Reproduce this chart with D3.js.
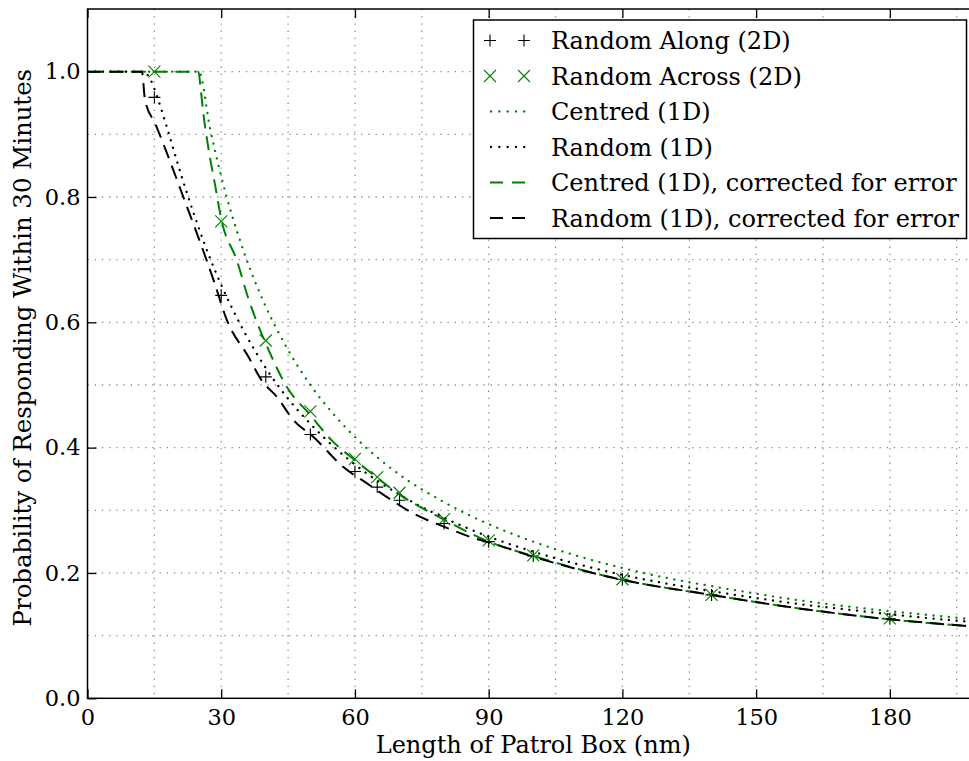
<!DOCTYPE html>
<html>
<head>
<meta charset="utf-8">
<script src="https://cdn.jsdelivr.net/npm/d3@7/dist/d3.min.js"></script>
<style>
  html, body { margin: 0; padding: 0; background: #fff; }
  svg { display: block; font-family: "DejaVu Serif", serif; }
</style>
</head>
<body>
<svg id="chart" width="969" height="761"></svg>
<script>
// ---------- data ----------
const markerX = [15, 30, 40, 50, 60, 65, 70, 80, 90, 100, 120, 140, 180];
const randomAlong2D = [0.959, 0.643, 0.513, 0.421, 0.362, 0.337, 0.316, 0.279, 0.250, 0.227, 0.190, 0.165, 0.127];
const randomAcross2D = [1.0, 0.761, 0.571, 0.458, 0.382, 0.353, 0.328, 0.286, 0.252, 0.228, 0.190, 0.165, 0.1275];

const centred1DX = [0, 25, 27.5, 30, 35, 40, 45, 50, 55, 60, 70, 80, 90, 100, 110, 120, 130, 140, 150, 160, 170, 180, 190, 200];
const centred1DY = [1, 1, 0.909, 0.833, 0.714, 0.625, 0.556, 0.5, 0.455, 0.417, 0.357, 0.313, 0.278, 0.25, 0.227, 0.208, 0.192, 0.179, 0.167, 0.156, 0.147, 0.139, 0.132, 0.125];

const random1DX = [0, 12.5, 14, 16, 18, 20, 22.5, 25, 27.5, 30, 35, 40, 45, 50, 55, 60, 70, 80, 90, 100, 110, 120, 130, 140, 150, 160, 170, 180, 190, 200];
const random1DY = [1, 1, 0.989, 0.952, 0.907, 0.859, 0.802, 0.75, 0.702, 0.66, 0.587, 0.527, 0.478, 0.438, 0.403, 0.373, 0.325, 0.288, 0.258, 0.234, 0.214, 0.197, 0.183, 0.171, 0.16, 0.15, 0.142, 0.134, 0.127, 0.121];

const centredCorrX = [0, 24.9, 25.4, 26, 27.1, 28.7, 30, 33.5, 36, 41, 44.7, 50, 55, 60, 65, 70, 76, 80, 86, 90, 100, 120, 140, 160, 180, 200];
const centredCorrY = [1, 1, 0.972, 0.933, 0.879, 0.816, 0.765, 0.699, 0.64, 0.55, 0.497, 0.452, 0.41, 0.38, 0.352, 0.325, 0.3, 0.285, 0.263, 0.25, 0.227, 0.189, 0.165, 0.143, 0.126, 0.114];

const randomCorrX = [0, 12.2, 12.9, 15.2, 21.5, 28.3, 31.3, 36.1, 39.1, 42.5, 46.2, 50.7, 57.4, 62.7, 67.2, 73.1, 79.9, 87, 90, 100, 120, 140, 160, 180, 200];
const randomCorrY = [1, 1, 0.955, 0.917, 0.8, 0.667, 0.603, 0.545, 0.507, 0.481, 0.444, 0.417, 0.369, 0.343, 0.321, 0.295, 0.274, 0.255, 0.249, 0.226, 0.189, 0.165, 0.143, 0.126, 0.114];

const xTicks = [0, 30, 60, 90, 120, 150, 180];
const yTicks = [0.0, 0.2, 0.4, 0.6, 0.8, 1.0];
const xGrid = [15, 30, 45, 60, 75, 90, 105, 120, 135, 150, 165, 180, 195];
const yGrid = [0.1, 0.2, 0.3, 0.4, 0.5, 0.6, 0.7, 0.8, 0.9, 1.0];

const legendLabels = ["Random Along (2D)", "Random Across (2D)", "Centred (1D)", "Random (1D)",
  "Centred (1D), corrected for error", "Random (1D), corrected for error"];

const xLabel = "Length of Patrol Box (nm)";
const yLabel = "Probability of Responding Within 30 Minutes";

// ---------- layout ----------
const GREEN = "#008000";
const FS = "24px";
const TFS = "22.5px";
const svg = d3.select("#chart");
const pL = 87.5, pT = 9, pR = 979, pB = 698.3;
const x = d3.scaleLinear().domain([0, 200]).range([pL, pR]);
const y = d3.scaleLinear().domain([0, 1.1]).range([pB, pT]);

const DOT = "0.1,7.6";
const DASH = "14,8";

// grid
const grid = svg.append("g");
grid.selectAll("line.gx").data(xGrid).join("line")
  .attr("x1", d => x(d)).attr("x2", d => x(d)).attr("y1", pT).attr("y2", pB)
  .attr("stroke", "#8c8c8c").attr("stroke-width", 1.3).attr("stroke-dasharray", "1.3,5.9");
grid.selectAll("line.gy").data(yGrid).join("line")
  .attr("x1", pL).attr("x2", pR).attr("y1", d => y(d)).attr("y2", d => y(d))
  .attr("stroke", "#8c8c8c").attr("stroke-width", 1.3).attr("stroke-dasharray", "1.3,5.9");

// axes (ticks inward, labels)
const xAxisB = d3.axisBottom(x).tickValues(xTicks).tickSizeInner(-9).tickSizeOuter(0).tickPadding(11).tickFormat(d3.format("d"));
const xAxisT = d3.axisTop(x).tickValues(xTicks).tickSizeInner(-9).tickSizeOuter(0).tickFormat("");
const yAxisL = d3.axisLeft(y).tickValues(yTicks).tickSizeInner(-9).tickSizeOuter(0).tickPadding(7).tickFormat(d3.format(".1f"));
const yAxisR = d3.axisRight(y).tickValues(yTicks).tickSizeInner(-9).tickSizeOuter(0).tickFormat("");

function styleAxis(g) {
  g.select(".domain").remove();
  g.selectAll(".tick line").attr("stroke", "#000").attr("stroke-width", 1.3);
  g.selectAll(".tick text").attr("fill", "#000").style("font-family", "DejaVu Serif").style("font-size", TFS);
}
svg.append("g").attr("transform", `translate(0,${pB})`).call(xAxisB).call(styleAxis);
svg.append("g").attr("transform", `translate(0,${pT})`).call(xAxisT).call(styleAxis);
svg.append("g").attr("transform", `translate(${pL},0)`).call(yAxisL).call(styleAxis);
svg.append("g").attr("transform", `translate(${pR},0)`).call(yAxisR).call(styleAxis);

// plot clip
svg.append("clipPath").attr("id", "clip").append("rect")
  .attr("x", pL).attr("y", pT).attr("width", pR - pL).attr("height", pB - pT);
const plot = svg.append("g").attr("clip-path", "url(#clip)");

const line = d3.line().x(d => x(d[0])).y(d => y(d[1])).curve(d3.curveMonotoneX);
const zip = (xs, ys) => xs.map((v, i) => [v, ys[i]]);

function plus(g, cx, cy, s, color) {
  g.append("path").attr("d", `M${cx - s},${cy}H${cx + s}M${cx},${cy - s}V${cy + s}`)
    .attr("stroke", color).attr("stroke-width", 1.1).attr("fill", "none");
}
function cross(g, cx, cy, s, color) {
  g.append("path").attr("d", `M${cx - s},${cy - s}L${cx + s},${cy + s}M${cx - s},${cy + s}L${cx + s},${cy - s}`)
    .attr("stroke", color).attr("stroke-width", 1.1).attr("fill", "none");
}

// markers
markerX.forEach((v, i) => plus(plot, x(v), y(randomAlong2D[i]), 6, "#000"));
markerX.forEach((v, i) => cross(plot, x(v), y(randomAcross2D[i]), 6, GREEN));

// lines
const series = [
  { data: zip(centred1DX, centred1DY), color: GREEN, dash: DOT, cap: "round" },
  { data: zip(random1DX, random1DY), color: "#000", dash: DOT, cap: "round" },
  { data: zip(centredCorrX, centredCorrY), color: GREEN, dash: DASH, cap: "butt" },
  { data: zip(randomCorrX, randomCorrY), color: "#000", dash: DASH, cap: "butt" }
];
series.forEach(s => {
  plot.append("path").attr("d", line(s.data))
    .attr("fill", "none").attr("stroke", s.color).attr("stroke-width", s.dash === DOT ? 2.3 : 2)
    .attr("stroke-dasharray", s.dash)
    .attr("stroke-linecap", s.cap);
});

// spines
svg.append("rect").attr("x", pL).attr("y", pT).attr("width", pR - pL).attr("height", pB - pT)
  .attr("fill", "none").attr("stroke", "#000").attr("stroke-width", 1.5);

// axis titles
svg.append("text").attr("x", (pL + pR) / 2).attr("y", 753).attr("text-anchor", "middle")
  .style("font-size", FS).attr("fill", "#000").text(xLabel);
svg.append("text").attr("transform", `translate(31,${(pT + pB) / 2 - 6}) rotate(-90)`).attr("text-anchor", "middle")
  .style("font-size", "24.4px").attr("fill", "#000").text(yLabel);

// legend
const lg = svg.append("g");
lg.append("rect").attr("x", 473.5).attr("y", 20).attr("width", 493).attr("height", 218.5)
  .attr("fill", "#fff").attr("stroke", "#000").attr("stroke-width", 1.5);
const rowY = i => 40.5 + i * 35.5;
const hx1 = 490, hx2 = 524;
legendLabels.forEach((lab, i) => {
  const cy = rowY(i);
  if (i === 0) { plus(lg, hx1, cy, 6, "#000"); plus(lg, hx2, cy, 6, "#000"); }
  else if (i === 1) { cross(lg, hx1, cy, 6, GREEN); cross(lg, hx2, cy, 6, GREEN); }
  else {
    const s = series[i - 2];
    lg.append("line").attr("x1", hx1 + (s.dash === DOT ? 1 : 0)).attr("x2", hx2 + 1).attr("y1", cy).attr("y2", cy)
      .attr("stroke", s.color).attr("stroke-width", s.dash === DOT ? 2.3 : 2)
      .attr("stroke-dasharray", s.dash === DOT ? "0.1,8.2" : "13,9").attr("stroke-linecap", s.cap);
  }
  lg.append("text").attr("x", 551).attr("y", cy).attr("dy", "0.36em")
    .style("font-size", FS).attr("fill", "#000").text(lab);
});
</script>
</body>
</html>
